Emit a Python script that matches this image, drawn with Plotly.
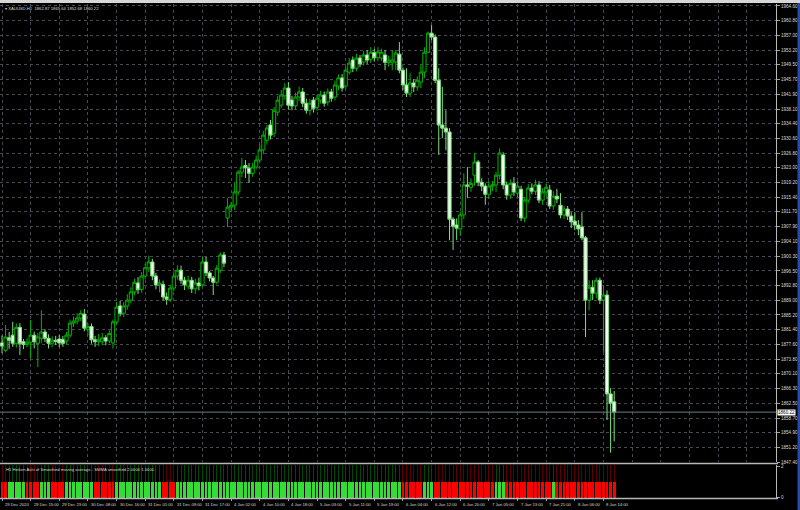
import plotly.graph_objects as go

# ---------------- data (XAUUSD H1) ----------------
open_ = [
    1878.0, 1876.1, 1879.3, 1880.0, 1877.9, 1882.0, 1878.3, 1877.6, 1878.2, 1880.0,
    1877.9, 1879.2, 1880.8, 1879.2, 1877.9, 1878.7, 1879.0, 1878.9, 1878.5, 1880.0,
    1883.1, 1883.6, 1884.4, 1885.4, 1881.5, 1882.2, 1878.8, 1878.3, 1878.3, 1879.3,
    1878.5, 1878.0, 1883.4, 1887.5, 1885.6, 1887.5, 1889.0, 1891.1, 1893.4, 1891.7,
    1895.2, 1897.3, 1898.8, 1895.2, 1892.9, 1893.0, 1889.8, 1889.2, 1892.1, 1895.2,
    1896.7, 1894.1, 1892.6, 1894.1, 1891.9, 1893.4, 1892.9, 1898.8, 1896.0, 1894.7,
    1893.6, 1896.7, 1900.6, 1910.1, 1912.9, 1913.4, 1916.8, 1921.9, 1923.6, 1922.9,
    1921.6, 1923.2, 1925.0, 1927.6, 1930.1, 1934.0, 1931.9, 1937.3, 1939.1, 1941.5,
    1943.5, 1940.4, 1938.9, 1941.2, 1942.5, 1939.6, 1937.8, 1940.4, 1938.6, 1940.4,
    1941.7, 1939.9, 1942.5, 1941.2, 1944.0, 1946.1, 1944.0, 1947.6, 1950.7, 1948.6,
    1951.2, 1950.2, 1952.0, 1950.9, 1952.6, 1951.3, 1951.2, 1952.0, 1950.1, 1950.0,
    1950.2, 1952.2, 1948.1, 1944.3, 1942.2, 1944.8, 1943.8, 1945.0, 1947.6, 1952.7,
    1957.6, 1956.6, 1945.5, 1934.0, 1933.2, 1932.2, 1909.8, 1908.3, 1907.3, 1910.9,
    1918.6, 1918.0, 1921.1, 1924.5, 1919.3, 1918.3, 1916.2, 1918.3, 1918.6, 1921.1,
    1926.3, 1918.6, 1916.0, 1919.0, 1916.5, 1917.5, 1910.1, 1914.7, 1917.8, 1917.0,
    1918.6, 1914.7, 1916.8, 1917.3, 1913.2, 1915.7, 1913.4, 1910.9, 1912.4, 1910.6,
    1909.3, 1908.3, 1907.8, 1905.0, 1889.0, 1892.3, 1890.8, 1894.1, 1889.0, 1890.3,
    1864.9, 1862.87,
]
high = [
    1879.9, 1882.6, 1880.8, 1883.4, 1883.0, 1883.1, 1879.0, 1879.2, 1883.9, 1880.9,
    1880.6, 1886.4, 1881.5, 1880.2, 1879.7, 1879.8, 1880.0, 1879.8, 1880.8, 1884.0,
    1884.8, 1885.6, 1886.4, 1886.7, 1883.0, 1883.0, 1879.8, 1880.3, 1880.6, 1880.0,
    1881.2, 1884.0, 1888.5, 1888.8, 1888.5, 1890.5, 1892.3, 1894.5, 1894.9, 1896.2,
    1898.3, 1900.4, 1899.6, 1896.0, 1894.3, 1894.0, 1891.0, 1893.0, 1896.4, 1898.0,
    1897.9, 1895.0, 1895.3, 1895.0, 1894.5, 1894.8, 1900.1, 1900.1, 1896.5, 1895.2,
    1898.0, 1901.3, 1901.4, 1915.2, 1914.2, 1919.1, 1922.4, 1925.5, 1925.0, 1924.2,
    1924.3, 1926.2, 1929.0, 1932.5, 1934.0, 1935.3, 1938.6, 1941.5, 1943.0, 1944.8,
    1945.0, 1941.5, 1942.3, 1943.8, 1943.5, 1940.8, 1940.7, 1941.2, 1941.7, 1942.8,
    1942.6, 1943.4, 1943.3, 1945.4, 1947.0, 1947.1, 1949.0, 1951.2, 1951.6, 1952.3,
    1952.0, 1953.0, 1953.3, 1954.0, 1953.6, 1954.0, 1953.6, 1953.3, 1951.8, 1953.3,
    1953.3, 1955.3, 1948.8, 1948.6, 1947.3, 1945.8, 1946.5, 1949.4, 1954.0, 1958.0,
    1959.7, 1957.3, 1948.6, 1943.8, 1937.8, 1933.2, 1910.3, 1910.0, 1911.8, 1921.6,
    1923.2, 1920.3, 1926.8, 1925.0, 1920.3, 1919.0, 1919.6, 1919.6, 1922.0, 1928.0,
    1927.0, 1919.5, 1920.0, 1920.6, 1919.6, 1918.4, 1915.5, 1918.8, 1919.0, 1920.0,
    1919.6, 1917.8, 1919.0, 1918.6, 1917.0, 1917.6, 1916.5, 1913.3, 1913.2, 1911.6,
    1911.6, 1909.6, 1911.6, 1905.5, 1894.1, 1894.1, 1894.8, 1894.8, 1892.9, 1891.5,
    1866.4, 1865.64,
]
low = [
    1875.4, 1875.6, 1876.5, 1877.0, 1876.8, 1874.9, 1876.4, 1876.9, 1874.1, 1876.6,
    1871.8, 1877.9, 1878.2, 1876.6, 1876.9, 1877.5, 1876.9, 1877.0, 1877.6, 1879.3,
    1882.1, 1882.8, 1883.6, 1881.0, 1880.0, 1877.8, 1877.0, 1877.2, 1877.5, 1877.4,
    1877.9, 1876.5, 1882.6, 1884.8, 1884.6, 1886.5, 1888.2, 1890.3, 1890.6, 1890.9,
    1894.3, 1896.3, 1894.1, 1891.8, 1891.0, 1888.9, 1887.8, 1888.5, 1891.3, 1894.3,
    1893.2, 1891.6, 1891.8, 1890.8, 1890.6, 1891.5, 1892.4, 1895.2, 1893.8, 1890.3,
    1893.0, 1896.0, 1897.5, 1907.8, 1911.5, 1912.2, 1916.0, 1920.6, 1920.4, 1919.1,
    1920.7, 1922.6, 1924.3, 1926.5, 1929.0, 1930.3, 1930.9, 1936.3, 1938.3, 1940.5,
    1938.0, 1937.8, 1938.0, 1940.1, 1938.6, 1936.9, 1936.5, 1937.2, 1937.6, 1939.5,
    1938.7, 1939.0, 1940.0, 1940.3, 1943.0, 1942.6, 1943.3, 1946.9, 1947.6, 1947.8,
    1948.9, 1949.3, 1949.7, 1950.0, 1950.3, 1950.4, 1950.5, 1948.1, 1949.0, 1948.1,
    1948.1, 1947.3, 1943.0, 1941.2, 1941.2, 1942.5, 1942.8, 1943.5, 1946.1, 1952.5,
    1955.8, 1944.8, 1926.3, 1930.6, 1927.5, 1904.4, 1901.9, 1904.4, 1905.5, 1909.8,
    1915.2, 1916.8, 1918.4, 1918.3, 1917.0, 1913.5, 1915.0, 1917.0, 1916.8, 1920.0,
    1917.5, 1914.8, 1915.0, 1915.8, 1915.5, 1909.3, 1909.0, 1913.9, 1916.2, 1916.0,
    1913.9, 1913.5, 1915.8, 1912.4, 1912.2, 1913.9, 1910.0, 1909.9, 1909.6, 1907.5,
    1907.0, 1905.7, 1904.4, 1879.5, 1886.4, 1889.0, 1889.5, 1888.0, 1875.7, 1858.2,
    1849.8, 1852.68,
]
close = [
    1877.2, 1879.5, 1878.7, 1877.9, 1882.0, 1877.9, 1877.6, 1878.2, 1880.0, 1878.3,
    1879.5, 1880.8, 1879.2, 1877.9, 1878.7, 1878.4, 1878.0, 1877.9, 1880.0, 1883.1,
    1883.6, 1884.4, 1885.6, 1881.8, 1882.2, 1878.8, 1878.3, 1878.8, 1879.3, 1878.5,
    1880.4, 1883.4, 1887.2, 1885.6, 1887.5, 1889.0, 1891.1, 1893.6, 1891.7, 1895.2,
    1897.3, 1898.8, 1895.2, 1892.9, 1893.4, 1889.8, 1889.2, 1892.1, 1895.2, 1896.7,
    1894.1, 1892.9, 1894.1, 1891.9, 1893.4, 1892.7, 1898.8, 1896.0, 1894.7, 1893.6,
    1897.2, 1900.6, 1898.5, 1912.9, 1913.4, 1916.8, 1921.9, 1923.2, 1923.0, 1921.6,
    1923.2, 1925.0, 1927.6, 1931.4, 1933.2, 1931.4, 1937.8, 1940.4, 1941.7, 1943.5,
    1939.1, 1938.9, 1941.2, 1942.5, 1939.6, 1937.8, 1939.6, 1938.3, 1940.9, 1941.7,
    1939.6, 1942.5, 1940.9, 1944.3, 1946.1, 1943.5, 1948.1, 1949.9, 1948.6, 1951.2,
    1949.7, 1952.0, 1950.7, 1952.7, 1951.3, 1952.8, 1952.7, 1950.1, 1950.7, 1950.7,
    1952.5, 1948.1, 1944.3, 1942.2, 1944.8, 1943.8, 1945.5, 1947.6, 1952.7, 1957.6,
    1956.6, 1945.5, 1934.0, 1933.2, 1932.2, 1909.8, 1908.0, 1907.5, 1910.9, 1918.6,
    1918.3, 1919.0, 1924.5, 1919.3, 1918.3, 1916.2, 1918.3, 1918.6, 1921.1, 1926.8,
    1918.6, 1916.0, 1919.0, 1916.8, 1918.3, 1910.1, 1914.7, 1917.8, 1917.0, 1918.6,
    1914.7, 1916.8, 1918.0, 1913.2, 1915.7, 1915.0, 1910.9, 1912.4, 1910.6, 1909.1,
    1908.3, 1907.3, 1905.0, 1889.0, 1892.3, 1890.8, 1894.1, 1889.0, 1890.3, 1864.9,
    1862.5, 1860.22,
]

# time-axis labels (one every 8 bars)
time_labels = [
    "29 Dec 2020", "29 Dec 15:00", "29 Dec 23:00", "30 Dec 08:00", "30 Dec 16:00",
    "31 Dec 01:00", "31 Dec 09:00", "31 Dec 17:00", "4 Jan 02:00", "4 Jan 10:00",
    "4 Jan 18:00", "5 Jan 03:00", "5 Jan 11:00", "5 Jan 19:00", "6 Jan 04:00",
    "6 Jan 12:00", "6 Jan 20:00", "7 Jan 05:00", "7 Jan 13:00", "7 Jan 21:00",
    "8 Jan 06:00", "8 Jan 14:00",
]
bars_per_label = 8

# price-scale labels
price_labels = [
    1964.60, 1960.80, 1957.00, 1953.20, 1949.50, 1945.70, 1941.90, 1938.10,
    1934.40, 1930.60, 1926.80, 1923.00, 1919.20, 1915.40, 1911.70, 1907.90,
    1904.10, 1900.30, 1896.50, 1892.80, 1889.00, 1885.20, 1881.40, 1877.60,
    1873.80, 1870.10, 1866.30, 1862.50, 1858.70, 1854.90, 1851.20, 1847.40,
]
last_price = 1860.22

# Heiken Ashi smoothed histogram: runs of bearish (red) bars, others bullish
ha_bear_runs = [(0, 1), (7, 10), (14, 17), (26, 31), (45, 48),
                (112, 117), (121, 137), (141, 153), (155, 171)]
ha_upper_value = 2
ha_lower_value = 1

# ---------------- figure ----------------
n = len(close)
x = list(range(n))
ha_bear = [False] * n
for a, b in ha_bear_runs:
    for k in range(a, b + 1):
        ha_bear[k] = True

BRIGHT_RED, BRIGHT_GREEN = "#ff0000", "#33dd33"
DARK_RED, DARK_GREEN = "#5c0000", "#004a00"
bright_cols = [BRIGHT_RED if b else BRIGHT_GREEN for b in ha_bear]
dark_cols = [DARK_RED if b else DARK_GREEN for b in ha_bear]

W, H = 800, 510
PLOT_R = 776
slot = 3.58
x0 = -2 / slot
x1 = x0 + PLOT_R / slot

def py(ypix):
    return 1 - ypix / H

GRID = "#454a53"
TXT = "#d8d8d8"
FONT = "Liberation Sans, Arial, sans-serif"
CANDLE_GREEN = "#00b400"
FS_Y = 4.6
FS_X = 4.2
FS_T = 4.2

fig = go.Figure()
fig.add_trace(go.Candlestick(
    x=x, open=open_, high=high, low=low, close=close,
    increasing=dict(line=dict(color=CANDLE_GREEN, width=1), fillcolor="#000000"),
    decreasing=dict(line=dict(color="#7ee07e", width=1), fillcolor="#f0fff0"),
    whiskerwidth=0, showlegend=False, hoverinfo="skip",
    xaxis="x", yaxis="y",
))
fig.add_trace(go.Bar(
    x=x, y=[ha_upper_value] * n, width=0.28,
    marker=dict(color=dark_cols, line=dict(width=0)),
    xaxis="x2", yaxis="y2", showlegend=False, hoverinfo="skip",
))
fig.add_trace(go.Bar(
    x=x, y=[ha_lower_value] * n, width=0.8,
    marker=dict(color=bright_cols, line=dict(width=0)),
    xaxis="x2", yaxis="y2", showlegend=False, hoverinfo="skip",
))

grid_ticks = list(range(0, int(x1) + 1, bars_per_label))
label_ticks = [i * bars_per_label for i in range(len(time_labels))]

fig.update_layout(
    width=W, height=H,
    margin=dict(l=0, r=0, t=0, b=0),
    paper_bgcolor="#000000", plot_bgcolor="#000000",
    barmode="overlay", bargap=0, boxgap=0.1, boxgroupgap=0,
    font=dict(family=FONT, size=FS_X, color=TXT),
    xaxis=dict(
        domain=[0, PLOT_R / W], range=[x0, x1], anchor="y",
        tickmode="array", tickvals=grid_ticks, showticklabels=False, ticks="",
        showgrid=True, gridcolor=GRID, griddash="3px,3px", gridwidth=1,
        zeroline=False, showline=False, rangeslider=dict(visible=False),
        fixedrange=True,
    ),
    yaxis=dict(
        domain=[py(462), py(4)], range=[1847.4, 1965.1], anchor="x",
        side="right", tickmode="array", tickvals=price_labels,
        ticktext=[f"{v:.2f}" for v in price_labels],
        tickfont=dict(size=FS_Y, color=TXT, family=FONT),
        ticks="outside", ticklen=3, tickcolor="#a0a0a0",
        showgrid=True, gridcolor=GRID, griddash="3px,3px", gridwidth=1,
        zeroline=False, showline=True, linecolor="#b8b8b8", linewidth=1,
        automargin=False, fixedrange=True,
    ),
    xaxis2=dict(
        domain=[0, PLOT_R / W], range=[x0, x1], anchor="y2", matches="x",
        tickmode="array", tickvals=label_ticks, showticklabels=False,
        ticks="outside", ticklen=2, tickcolor="#a0a0a0",
        showgrid=False, zeroline=False, showline=False, fixedrange=True,
    ),
    yaxis2=dict(
        domain=[py(498), py(465)], range=[0, 2.0], anchor="x2",
        side="right", tickmode="array", tickvals=[0.05, 1.93], ticktext=["0", "2"],
        tickfont=dict(size=FS_Y, color=TXT, family=FONT),
        ticks="outside", ticklen=3, tickcolor="#a0a0a0",
        showgrid=False, zeroline=False, showline=True, linecolor="#b8b8b8",
        automargin=False, fixedrange=True,
    ),
)

shapes = [
    # window chrome: top strip and right border
    dict(type="rect", xref="paper", yref="paper", x0=0, x1=1, y0=py(3), y1=1,
         fillcolor="#d6d6d6", line=dict(width=0), layer="above"),
    dict(type="rect", xref="paper", yref="paper", x0=797.5 / W, x1=1, y0=0, y1=py(3),
         fillcolor="#2a4aa8", line=dict(width=0), layer="above"),
    # sub-window separators
    dict(type="line", xref="paper", yref="paper", x0=0, x1=(PLOT_R + 2) / W,
         y0=py(463.5), y1=py(463.5), line=dict(color="#b8b8b8", width=1.5)),
    dict(type="line", xref="paper", yref="paper", x0=0, x1=(PLOT_R + 2) / W,
         y0=py(498.5), y1=py(498.5), line=dict(color="#b8b8b8", width=1.5)),
    # last price line
    dict(type="line", xref="x domain", yref="y", x0=0, x1=1,
         y0=last_price, y1=last_price, line=dict(color="#6c7c8c", width=1)),
]
fig.update_layout(shapes=shapes)

annotations = [
    dict(text="▾ XAUUSD,H1  1862.87 1865.64 1852.68 1860.22",
         xref="paper", yref="paper", x=3 / W, y=py(8.5), xanchor="left", yanchor="middle",
         showarrow=False, font=dict(size=FS_T, color=TXT, family=FONT)),
    dict(text="H1 Heiken Ashi of Smoothed moving average - SMMA smoothed 2.0000 1.0000",
         xref="paper", yref="paper", x=4 / W, y=py(469), xanchor="left", yanchor="middle",
         showarrow=False, font=dict(size=FS_T, color=TXT, family=FONT)),
    dict(text=f"{last_price:.2f}", xref="paper", yref="y", x=(PLOT_R + 1) / W, y=last_price,
         xanchor="left", yanchor="middle", showarrow=False, bgcolor="#ffffff",
         borderpad=0, font=dict(size=FS_Y, color="#000000", family=FONT)),
]
for t, lab in zip(label_ticks, time_labels):
    annotations.append(dict(
        text=lab, xref="x", yref="paper", x=t, y=py(504), xanchor="left", yanchor="middle",
        showarrow=False, xshift=1, font=dict(size=FS_X, color=TXT, family=FONT)))
fig.update_layout(annotations=annotations)

fig.write_html(
    "out.html", include_plotlyjs=True,
    config=dict(displayModeBar=False, staticPlot=True),
    post_script="document.body.style.margin='0';document.body.style.padding='0';"
                "document.body.style.overflow='hidden';",
)
